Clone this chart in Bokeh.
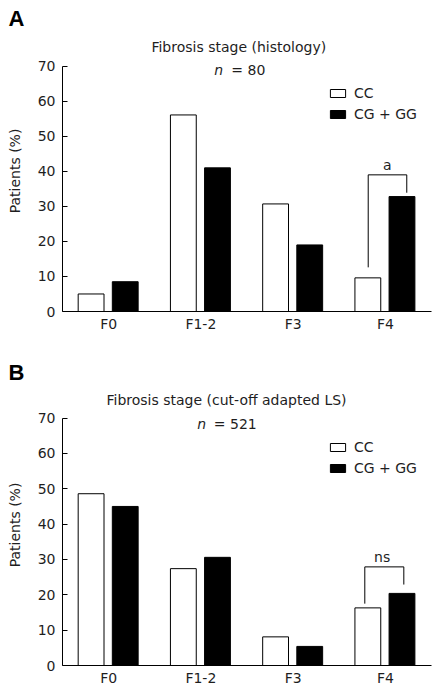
from bokeh.plotting import figure
from bokeh.models import (FactorRange, Range1d, Legend, LegendItem, Label,
                          ColumnDataSource, Title)
from bokeh.transform import dodge
from bokeh.layouts import column
from bokeh.embed import file_html
from bokeh.resources import INLINE

# ---------------- data ----------------
categories = ["F0", "F1-2", "F3", "F4"]
series_names = ["CC", "CG + GG"]
yticks = [0, 10, 20, 30, 40, 50, 60, 70]

a_title = "Fibrosis stage (histology)"
a_n = "80"
a_cc = [5.0, 56.1, 30.7, 9.6]
a_cg = [8.5, 41.0, 19.0, 32.8]
a_sig = "a"
a_bracket = [12.6, 39.0, 33.9]   # left foot, top, right foot

b_title = "Fibrosis stage (cut-off adapted LS)"
b_n = "521"
b_cc = [48.6, 27.4, 8.1, 16.3]
b_cg = [45.0, 30.6, 5.4, 20.4]
b_sig = "ns"
b_bracket = [17.5, 27.9, 22.9]

FONT = "DejaVu Sans"
FS = "14px"
TXT = "#1e1e1e"


def panel(letter, title, n, cc, cg, sig, bracket, height, top, bottom, ymax,
          title_x, title_y, n_r, n_l, n_y, br_l, br_r, sig_dx):
    p = figure(x_range=FactorRange(*categories, range_padding=0),
               y_range=Range1d(0, ymax),
               width=441, height=height, output_backend="svg",
               toolbar_location=None, min_border_left=62,
               min_border_right=10, min_border_top=top,
               min_border_bottom=bottom)
    p.outline_line_color = None
    p.xgrid.grid_line_color = None
    p.ygrid.grid_line_color = None
    p.background_fill_color = "white"

    src = ColumnDataSource(dict(x=categories, cc=cc, cg=cg))
    r1 = p.vbar(x=dodge("x", -0.19, range=p.x_range), top="cc", width=0.28,
                source=src, fill_color="white", line_color="black",
                line_width=1)
    r2 = p.vbar(x=dodge("x", 0.18, range=p.x_range), top="cg", width=0.28,
                source=src, fill_color="black", line_color="black",
                line_width=1)

    # axes
    xa = p.xaxis[0]
    xa.major_tick_line_color = None
    xa.major_tick_out = 0
    xa.major_tick_in = 0
    xa.minor_tick_line_color = None
    xa.major_label_standoff = 4
    xa.major_label_text_font = FONT
    xa.major_label_text_font_size = FS
    xa.major_label_text_color = TXT
    xa.axis_line_color = "black"

    ya = p.yaxis[0]
    ya.ticker = yticks
    ya.bounds = (0, 70)
    ya.major_tick_in = 5
    ya.major_tick_out = 0
    ya.minor_tick_line_color = None
    ya.major_label_standoff = 7
    ya.major_label_text_font = FONT
    ya.major_label_text_font_size = FS
    ya.major_label_text_color = TXT
    ya.axis_label = "Patients (%)"
    ya.axis_label_text_font = FONT
    ya.axis_label_text_font_size = FS
    ya.axis_label_text_font_style = "normal"
    ya.axis_label_text_color = TXT
    ya.axis_label_standoff = 12

    # significance bracket
    f = categories[-1]
    p.line(x=[(f, br_l), (f, br_l), (f, br_r), (f, br_r)],
           y=[bracket[0], bracket[1], bracket[1], bracket[2]],
           line_color="black", line_width=1)
    p.text(x=[(f, sig_dx)], y=[bracket[1] + 0.5], text=[sig],
           text_align="center", text_baseline="bottom",
           text_font_size=FS, text_font={"value": FONT},
           text_color=TXT)

    # titles (inside the frame, above the y-axis bounds)
    p.add_layout(Label(x=title_x, y=title_y, text=title, text_align="center",
                       text_baseline="middle", text_font=FONT,
                       text_font_size=FS, text_color=TXT))
    p.add_layout(Label(x=n_r, y=n_y, text="n", text_align="right",
                       text_baseline="middle", text_font=FONT,
                       text_font_style="italic",
                       text_font_size=FS, text_color=TXT))
    p.add_layout(Label(x=n_l, y=n_y, text="= " + n, text_align="left",
                       text_baseline="middle", text_font=FONT,
                       text_font_size=FS, text_color=TXT))

    # panel letter
    p.add_layout(Title(text=letter, align="left", offset=-54, standoff=0,
                       text_font="Liberation Sans", text_font_style="bold",
                       text_font_size="22px", text_color="black"), "above")

    legend = Legend(items=[LegendItem(label=series_names[0], renderers=[r1]),
                           LegendItem(label=series_names[1], renderers=[r2])],
                    location=(266, 189), border_line_color=None,
                    background_fill_alpha=0, padding=0, margin=0, spacing=4,
                    glyph_width=19, glyph_height=10, label_height=17,
                    label_standoff=7, label_text_font=FONT,
                    label_text_font_size=FS, label_text_color=TXT)
    p.add_layout(legend)
    return p


pa = panel("A", a_title, a_n, a_cc, a_cg, a_sig, a_bracket, 338, 30, 27,
           80.2, 1.911, 75.6, 1.74, 1.83, 69.0, -0.186, 0.232, 0.02)
pb = panel("B", b_title, b_n, b_cc, b_cg, b_sig, b_bracket, 352, 46, 25,
           79.5, 1.778, 75.0, 1.556, 1.64, 68.3, -0.223, 0.20, -0.035)

layout = column(pa, pb, spacing=0)
open("out.html", "w").write(file_html(layout, INLINE))
